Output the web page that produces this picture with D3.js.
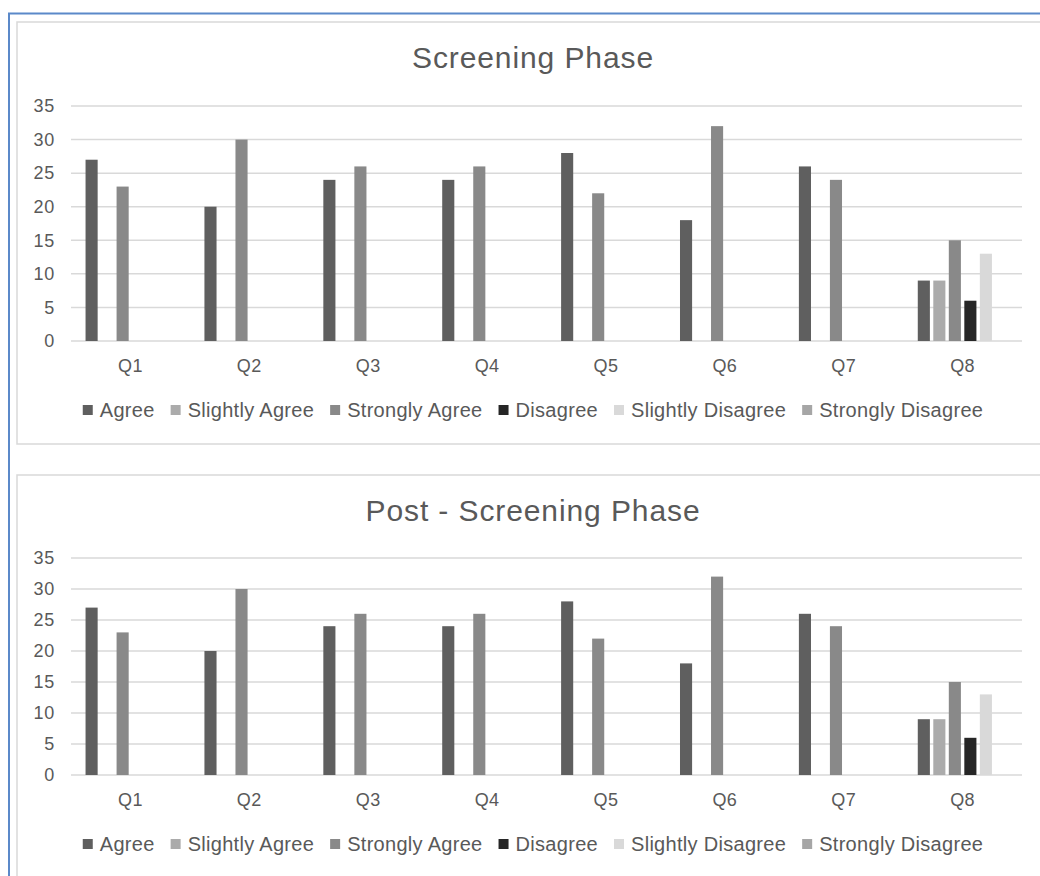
<!DOCTYPE html>
<html>
<head>
<meta charset="utf-8">
<script src="https://cdn.jsdelivr.net/npm/d3@7"></script>
<style>
    body { margin: 0; background: #fff; }
    svg { display: block; font-family: "Liberation Sans", Arial, sans-serif; }
</style>
</head>
<body>
<div id="div-charts"></div>
<script>
// values (both panels show the same counts)
var questions = ["Q1", "Q2", "Q3", "Q4", "Q5", "Q6", "Q7", "Q8"];
var responses = ["Agree", "Slightly Agree", "Strongly Agree", "Disagree", "Slightly Disagree", "Strongly Disagree"];

var agree             = [27, 20, 24, 24, 28, 18, 26, 9];
var slightlyAgree     = [0, 0, 0, 0, 0, 0, 0, 9];
var stronglyAgree     = [23, 30, 26, 26, 22, 32, 24, 15];
var disagree          = [0, 0, 0, 0, 0, 0, 0, 6];
var slightlyDisagree  = [0, 0, 0, 0, 0, 0, 0, 13];
var stronglyDisagree  = [0, 0, 0, 0, 0, 0, 0, 0];

var yTicks = [0, 5, 10, 15, 20, 25, 30, 35];
var colors = ["#5f5f5f", "#ababab", "#898989", "#262626", "#d9d9d9", "#a6a6a6"];

var seriesValues = [agree, slightlyAgree, stronglyAgree, disagree, slightlyDisagree, stronglyDisagree];

var width = 1040, height = 876;
var textColor = "#595959";

var svg = d3.select("#div-charts").append("svg")
    .attr("width", width)
    .attr("height", height);

// outer blue frame (top + left edge only visible)
svg.append("line")
    .attr("x1", 8).attr("x2", width)
    .attr("y1", 13.5).attr("y2", 13.5)
    .attr("stroke", "#5b89c9").attr("stroke-width", 2);
svg.append("line")
    .attr("x1", 9).attr("x2", 9)
    .attr("y1", 13).attr("y2", height)
    .attr("stroke", "#5b89c9").attr("stroke-width", 2);

function makeChart(title, box) {
    var margin = { left: 71, right: 1022 };

    var g = svg.append("g");

    g.append("rect")
        .attr("x", 17).attr("y", box.top)
        .attr("width", 1060).attr("height", box.height)
        .attr("fill", "#fff")
        .attr("stroke", "#d9d9d9")
        .attr("stroke-width", 1.5);

    g.append("text")
        .attr("x", 533).attr("y", box.titleY)
        .attr("text-anchor", "middle")
        .style("font-size", "30px")
        .style("letter-spacing", "0.9px")
        .attr("fill", textColor)
        .text(title);

    var x0 = d3.scaleBand()
        .domain(questions)
        .range([margin.left, margin.right])
        .paddingInner(0.217)
        .paddingOuter(0.108);

    var x1 = d3.scaleBand()
        .domain(responses)
        .range([0, x0.bandwidth()])
        .paddingInner(0.22)
        .paddingOuter(0.11);

    var y = d3.scaleLinear()
        .domain([0, 35])
        .range([box.plotBottom, box.plotTop]);

    // gridlines
    g.append("g")
        .selectAll("line")
        .data(yTicks)
        .enter()
        .append("line")
        .attr("x1", margin.left).attr("x2", margin.right)
        .attr("y1", d => y(d)).attr("y2", d => y(d))
        .attr("stroke", "#d9d9d9")
        .attr("stroke-width", 1.5);

    var yAxis = g.append("g")
        .attr("transform", `translate(${margin.left},0)`)
        .call(d3.axisLeft(y).tickValues(yTicks).tickSize(0).tickPadding(16));
    yAxis.select(".domain").remove();
    yAxis.selectAll("text")
        .attr("fill", textColor)
        .style("font-size", "18px")
        .style("letter-spacing", "0.8px")
        .attr("font-family", null);

    var xAxis = g.append("g")
        .attr("transform", `translate(0,${box.plotBottom})`)
        .call(d3.axisBottom(x0).tickSize(0).tickPadding(18));
    xAxis.select(".domain").remove();
    xAxis.selectAll("text")
        .attr("fill", textColor)
        .style("font-size", "18px")
        .style("letter-spacing", "0.4px")
        .attr("font-family", null);

    var rows = [];
    questions.forEach(function (q, i) {
        responses.forEach(function (r, j) {
            rows.push({ question: q, response: r, value: seriesValues[j][i], color: colors[j] });
        });
    });

    g.append("g")
        .selectAll("rect")
        .data(rows.filter(d => d.value > 0))
        .enter()
        .append("rect")
        .attr("x", d => x0(d.question) + x1(d.response))
        .attr("y", d => y(d.value))
        .attr("width", x1.bandwidth())
        .attr("height", d => y(0) - y(d.value))
        .attr("fill", d => d.color);

    // legend, laid out from the measured label widths and centred
    var legendY = box.plotBottom + 76;
    var legend = g.append("g");
    var items = legend.selectAll("g")
        .data(responses)
        .enter()
        .append("g");
    items.append("rect")
        .attr("y", legendY - 12)
        .attr("width", 10).attr("height", 10)
        .attr("fill", (d, i) => colors[i]);
    items.append("text")
        .attr("x", 17)
        .attr("y", legendY)
        .attr("fill", textColor)
        .style("font-size", "20px")
        .style("letter-spacing", "0.3px")
        .text(d => d);

    var cursor = 0;
    items.each(function () {
        var w = d3.select(this).select("text").node().getComputedTextLength();
        d3.select(this).attr("transform", `translate(${cursor},0)`);
        cursor += 17 + w + 16;
    });
    var total = cursor - 16;
    legend.attr("transform", `translate(${533 - total / 2},0)`);
}

makeChart("Screening Phase", { top: 22, height: 422, titleY: 68, plotTop: 106, plotBottom: 341 });
makeChart("Post - Screening Phase", { top: 475, height: 430, titleY: 521, plotTop: 558, plotBottom: 775 });
</script>
</body>
</html>
